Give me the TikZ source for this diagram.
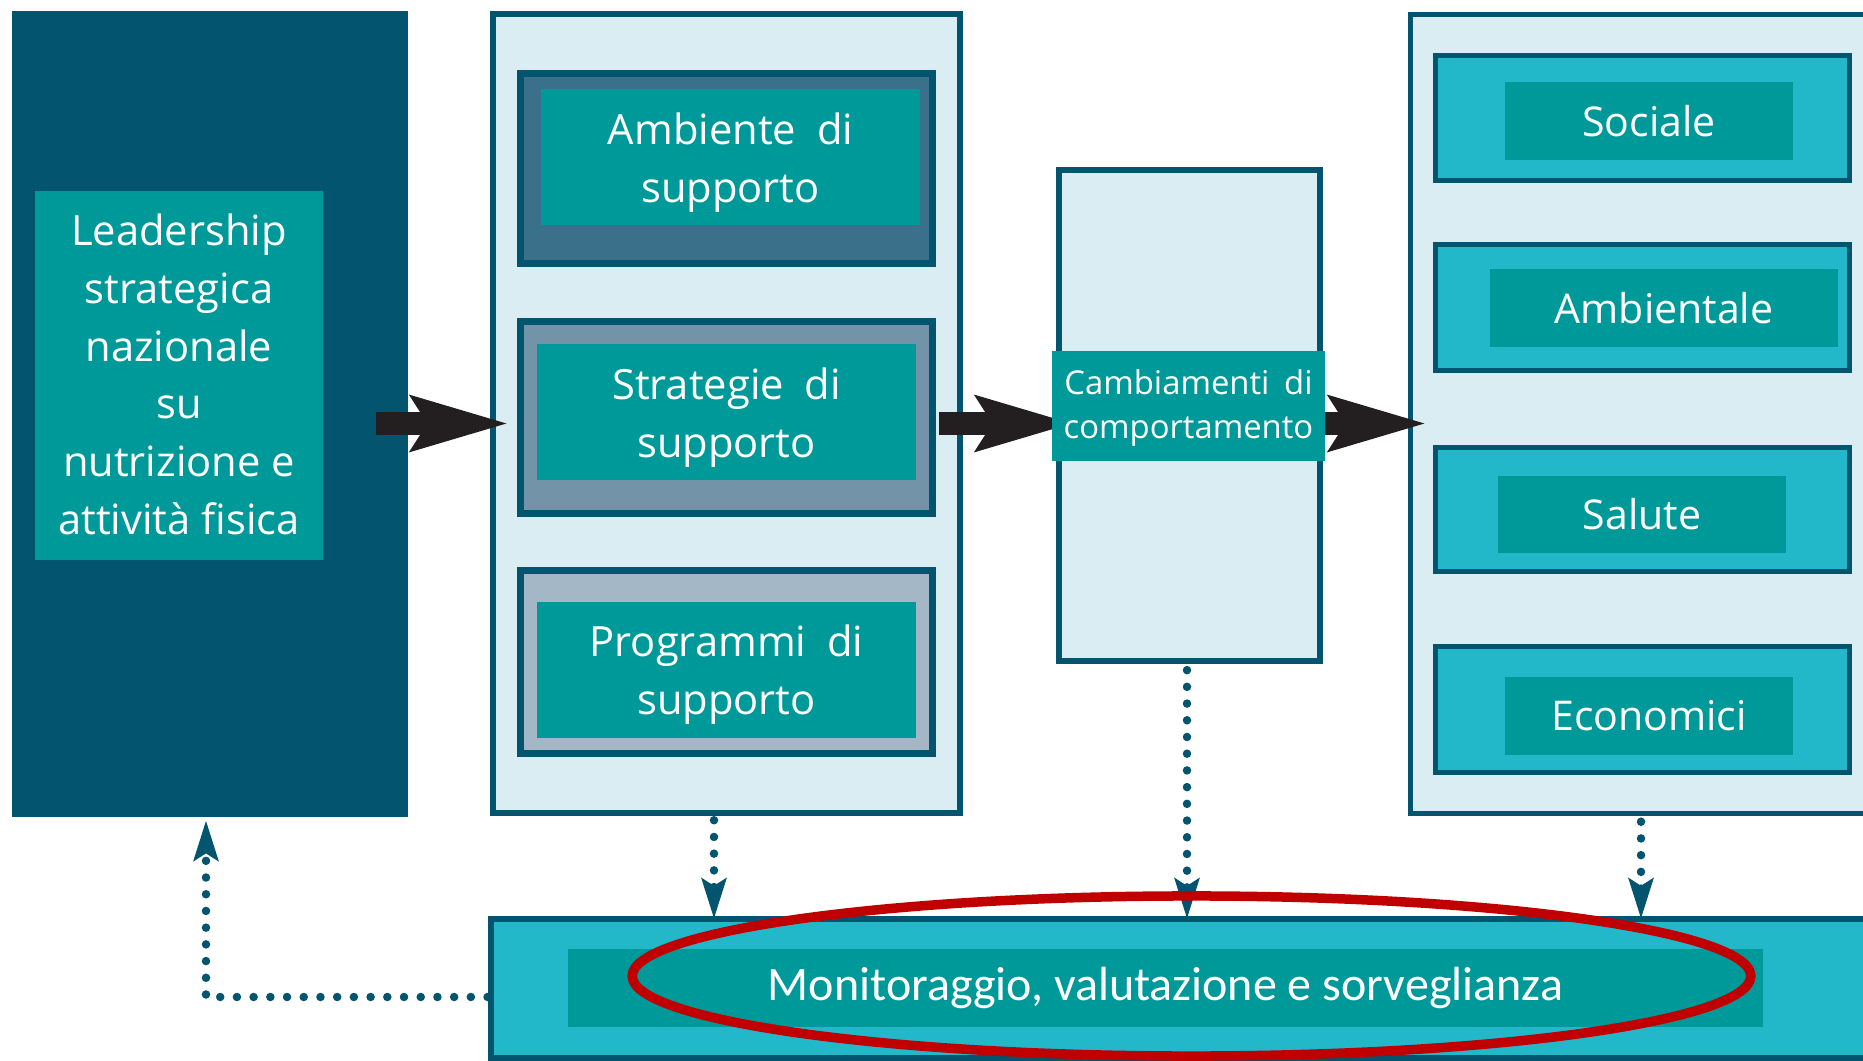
\documentclass[tikz,border=0pt]{standalone}
\usepackage{fontspec}
\setmainfont{Open Sans}
\newfontfamily\calfont{Carlito}
\usetikzlibrary{arrows.meta}
\definecolor{dk}{HTML}{02546F}
\definecolor{lt}{HTML}{D9EDF2}
\definecolor{tl}{HTML}{009999}
\definecolor{cy}{HTML}{23B7CA}
\definecolor{ambc}{HTML}{3A7089}
\definecolor{strc}{HTML}{7293A8}
\definecolor{proc}{HTML}{A3B7C6}
\definecolor{blk}{HTML}{231F20}
\definecolor{rd}{HTML}{C00000}
\begin{document}
\begin{tikzpicture}[x=0.01cm,y=-0.01cm,
  every node/.style={inner sep=0pt,outer sep=0pt,rectangle},
  panel/.style={draw=dk,line width=0.065cm,fill=lt},
  frame/.style={draw=dk,line width=0.065cm},
  rframe/.style={draw=dk,line width=0.05cm,fill=cy},
  tealbox/.style={fill=tl},
  txt/.style={text=white,align=center,font=\fontsize{11.85pt}{16.4pt}\selectfont},
  rtext/.style={fill=tl,text=white,align=center,font=\fontsize{11.67pt}{14pt}\selectfont},
  blockarr/.style={draw=blk,line width=0.22cm,-{Stealth[length=0.96cm 0 0,width=0.53cm 0 0,inset=0.15cm 0]}},
  dotarr/.style={draw=dk,line width=0.085cm,line cap=round,dash pattern=on 0pt off 0.167cm,
    -{Stealth[length=0.40cm 0 0,width=0.24cm 0 0,inset=0.07cm 0]}}
]
\useasboundingbox (0,0) rectangle (1863,1061);
\clip (0,0) rectangle (1863,1061);
\fill[white] (0,0) rectangle (1863,1061);

% left column
\node[fill=dk,minimum width=3.96cm,minimum height=8.06cm] (L) at (210,414) {};
\node[tealbox,minimum width=2.88cm,minimum height=3.69cm] (Lt) at (179,375.5) {};
\node[txt] (Ltt) at ([yshift=0.01cm]Lt.center)
  {Leadership\\strategica\\nazionale\\su\\nutrizione e\\attività fisica};

% middle column
\node[panel,minimum width=4.67cm,minimum height=7.99cm] (M) at (726.5,413.5) {};
\node[frame,fill=ambc,minimum width=4.12cm,minimum height=1.90cm] (A) at (726.5,168.5) {};
\node[tealbox,minimum width=3.79cm,minimum height=1.36cm] (Ai) at (730.5,157) {};
\node[txt] (Ait) at ([yshift=-0.06cm]Ai.center) {Ambiente\hspace{0.5em}di\\supporto};
\node[frame,fill=strc,minimum width=4.12cm,minimum height=1.92cm] (S) at (726.5,417.5) {};
\node[tealbox,minimum width=3.79cm,minimum height=1.36cm] (Si) at (726.5,412) {};
\node[txt] (Sit) at ([yshift=-0.06cm]Si.center) {Strategie\hspace{0.5em}di\\supporto};
\node[frame,fill=proc,minimum width=4.12cm,minimum height=1.83cm] (P) at (726.5,662) {};
\node[tealbox,minimum width=3.79cm,minimum height=1.36cm] (Pi) at (726.5,670) {};
\node[txt] (Pit) at ([yshift=-0.045cm]Pi.center) {Programmi\hspace{0.5em}di\\supporto};

% behaviour column
\node[panel,minimum width=2.61cm,minimum height=4.91cm] (B) at (1189.5,415.5) {};

% right column
\node[panel,line width=0.05cm,minimum width=5.49cm,minimum height=7.99cm] (R) at (1685.5,414) {};
\node[rframe,minimum width=4.14cm,minimum height=1.25cm] (So) at (1642.5,118) {};
\node[rtext,minimum width=2.88cm,minimum height=0.78cm] (Soi) at (1649,121) {Sociale};
\node[rframe,minimum width=4.14cm,minimum height=1.26cm] (Am) at (1642.5,307.5) {};
\node[rtext,minimum width=3.48cm,minimum height=0.78cm] (Ami) at (1664,308) {Ambientale};
\node[rframe,minimum width=4.14cm,minimum height=1.24cm] (Sa) at (1642.5,509.5) {};
\node[rtext,minimum width=2.88cm,minimum height=0.77cm] (Sai) at (1642,514.5) {Salute};
\node[rframe,minimum width=4.14cm,minimum height=1.26cm] (Ec) at (1642.5,709.5) {};
\node[rtext,minimum width=2.88cm,minimum height=0.78cm] (Eci) at (1649,716) {Economici};

% bottom bar
\node[fill=cy,draw=dk,line width=0.06cm,minimum width=14.69cm,minimum height=1.39cm] (Bot) at (1225.5,988.5) {};
\node[fill=tl,text=white,minimum width=11.95cm,minimum height=0.78cm,
  font=\calfont\fontsize{13.65pt}{16pt}\selectfont] (Boti) at (1165.5,988)
  {Monitoraggio, valutazione e sorveglianza};

% block arrows
\coordinate (ay) at (0,423.5);
\draw[blockarr] ([xshift=-0.32cm]L.east |- ay) -- ([xshift=0.16cm]M.west |- ay);
\draw[blockarr] ([xshift=-0.21cm]M.east |- ay) -- ([xshift=0.15cm]B.west |- ay);
\draw[blockarr] ([xshift=-0.20cm]B.east |- ay) -- ([xshift=0.16cm]R.west |- ay);

% behaviour label on top
\node[tealbox,minimum width=2.73cm,minimum height=1.10cm] (C) at (1188.5,406) {};
\node[txt,font=\fontsize{9.33pt}{12.66pt}\selectfont] (Ct) at ([yshift=-0.02cm]C.center)
  {Cambiamenti\hspace{0.45em}di\\comportamento};

% dotted arrows
\draw[dotarr] ([xshift=-0.125cm,yshift=-0.07cm]M.south) -- ([xshift=-0.125cm]M.south |- Bot.north);
\draw[dotarr] ([xshift=-0.025cm,yshift=-0.09cm]B.south) -- ([xshift=-0.025cm]B.south |- Bot.north);
\draw[dotarr] ([xshift=-0.015cm,yshift=-0.08cm]Ec.south |- R.south) -- ([xshift=-0.015cm]Ec.south |- Bot.north);
\coordinate (fy) at (0,997);
\draw[dotarr] ([xshift=-0.03cm]Bot.west |- fy) -| ([xshift=-0.04cm,yshift=-0.03cm]L.south);

% red highlight ellipse
\draw[rd,line width=0.095cm] (1191.5,976) ellipse [x radius=5.59cm, y radius=0.80cm];
\end{tikzpicture}
\end{document}
